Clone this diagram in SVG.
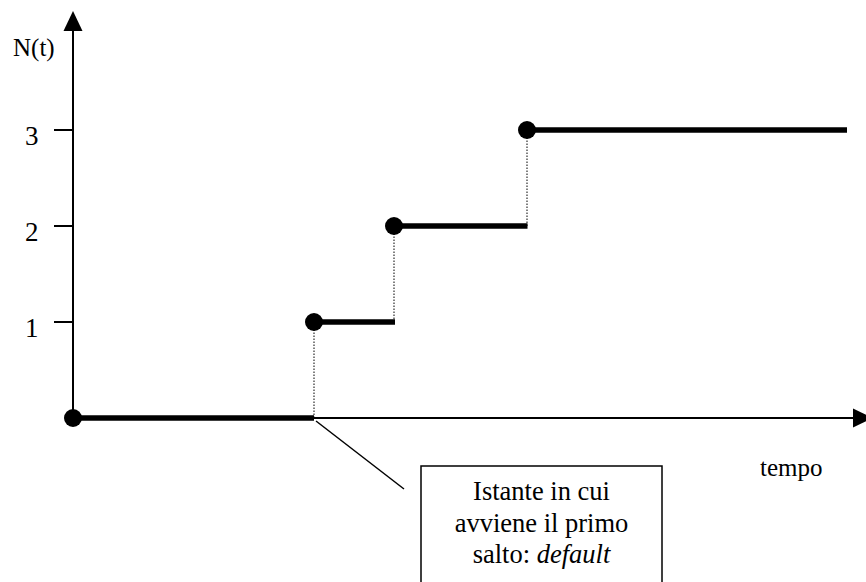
<svg xmlns="http://www.w3.org/2000/svg" width="866" height="582" viewBox="0 0 866 582">
<style>
text{font-family:"Liberation Serif","Times New Roman",serif;font-size:25px;fill:#000}
.num{font-size:27px}
.box{font-size:26.5px}
.axis{stroke:#000;stroke-width:2;fill:none}
.step{stroke:#000;stroke-width:5.5;fill:none}
.dot{stroke:#000;stroke-width:1;stroke-dasharray:1.5 1.5;fill:none}
.thin{stroke:#000;stroke-width:1.5;fill:none}
</style>
<rect width="866" height="582" fill="#fff"/>
<g id="axes">
<line class="axis" x1="73" y1="418" x2="73" y2="28"/>
<polygon points="73,11 63.5,31 82.5,31" fill="#000"/>
<line class="axis" x1="73" y1="418" x2="856" y2="418"/>
<polygon points="873,418 853,408.5 853,427.5" fill="#000"/>
<line class="axis" x1="54" y1="130" x2="73" y2="130"/>
<line class="axis" x1="54" y1="226" x2="73" y2="226"/>
<line class="axis" x1="54" y1="322" x2="73" y2="322"/>
<text x="13" y="56" font-size="26">N(t)</text>
<text class="num" x="25" y="145">3</text>
<text class="num" x="25" y="241">2</text>
<text class="num" x="25" y="337">1</text>
<text x="760" y="476">tempo</text>
</g>
<g id="connectors">
<line class="dot" x1="314" y1="418" x2="314" y2="322"/>
<line class="dot" x1="394" y1="322" x2="394" y2="226"/>
<line class="dot" x1="527" y1="226" x2="527" y2="130"/>
<line class="thin" x1="316" y1="421" x2="404" y2="489"/>
</g>
<g id="step0">
<line class="step" x1="73" y1="418" x2="314" y2="418"/>
<circle cx="73" cy="418" r="9" fill="#000"/>
</g>
<g id="step1">
<line class="step" x1="314" y1="322" x2="395" y2="322"/>
<circle cx="314" cy="322" r="9" fill="#000"/>
</g>
<g id="step2">
<line class="step" x1="394" y1="226" x2="527.5" y2="226"/>
<circle cx="394" cy="226" r="9" fill="#000"/>
</g>
<g id="step3">
<line class="step" x1="527" y1="130" x2="847" y2="130"/>
<circle cx="527" cy="130" r="9" fill="#000"/>
</g>
<g id="callout">
<rect x="421" y="466" width="241" height="130" fill="#fff" stroke="#000" stroke-width="1.5"/>
<text class="box" x="541.5" y="500" text-anchor="middle">Istante in cui</text>
<text class="box" x="541.5" y="531.5" text-anchor="middle">avviene il primo</text>
<text class="box" x="541.5" y="563" text-anchor="middle">salto: <tspan font-style="italic">default</tspan></text>
</g>
</svg>
